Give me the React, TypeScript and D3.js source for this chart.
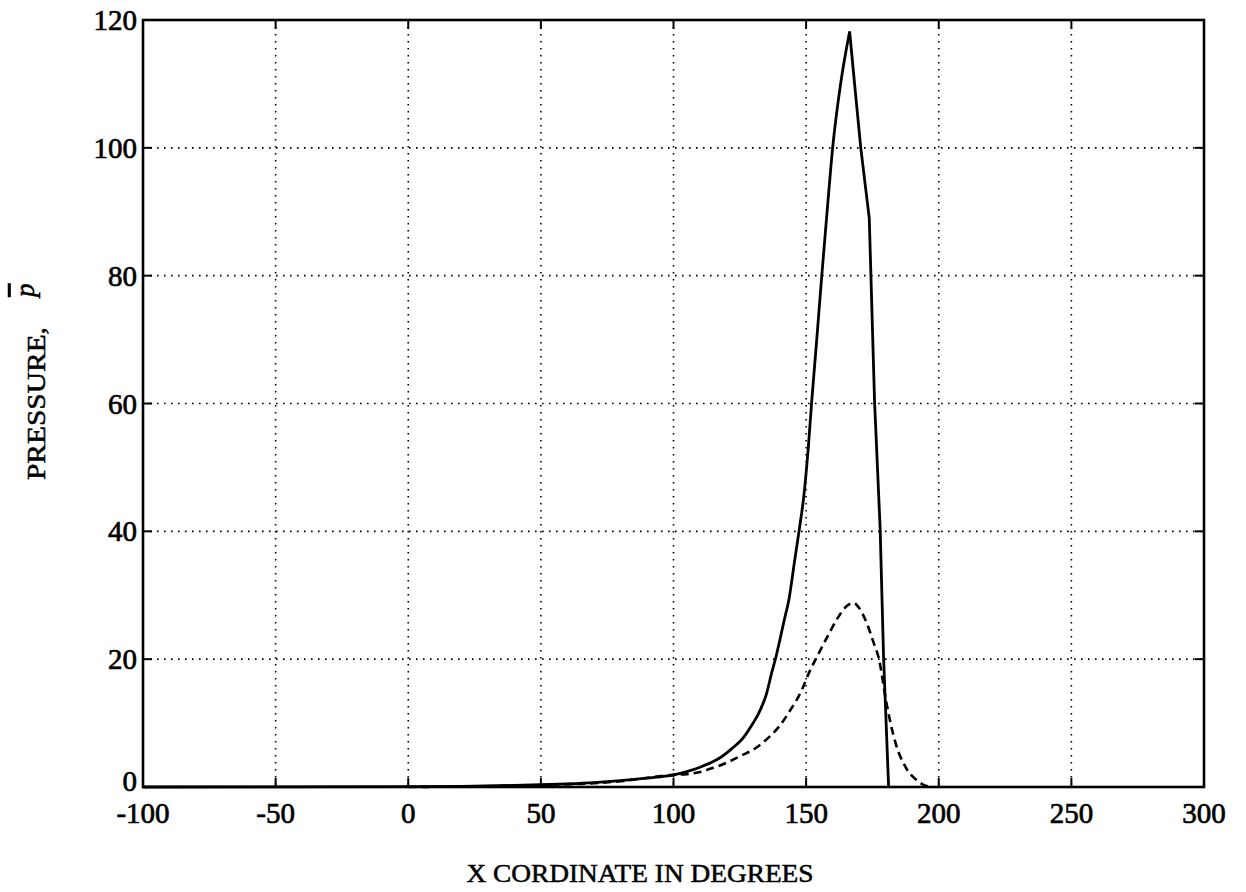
import React from "react";
import * as d3 from "d3";

const xTicks = [-100, -50, 0, 50, 100, 150, 200, 250, 300];
const yTicks = [0, 20, 40, 60, 80, 100, 120];

const solidX = [-100, 0, 20, 40, 50, 60, 70, 80, 90, 100, 105, 110, 115, 118, 122, 126.5, 130, 132.2, 135, 137.1, 138.6, 140.2, 141.8, 143.5, 145.7, 147.5, 149.1, 150.8, 152.1, 154, 155.9, 158, 160, 163, 166.4, 168.5, 170.6, 173.8, 175.8, 177.9, 179.2, 181.1];
const solidY = [0, 0.05, 0.1, 0.25, 0.35, 0.5, 0.7, 1.0, 1.4, 1.9, 2.4, 3.1, 4.0, 4.7, 6.0, 7.8, 10.0, 11.6, 14.5, 18.0, 20.3, 23.2, 26.2, 29.3, 35.5, 40.5, 45.4, 53, 60.3, 70, 80, 90.5, 100, 110, 118.2, 109, 100, 89, 60.3, 40.5, 20.3, 0];

const dashX = [0, 50, 80, 100, 105, 109.6, 115, 119.8, 125, 131, 136, 139.7, 144, 148.4, 151, 154, 158, 162, 165, 167.9, 170, 173, 175.5, 177.3, 180.3, 183.7, 187.5, 191.6, 195, 197];
const dashY = [0, 0.3, 0.9, 1.9, 2.0, 2.3, 3.0, 3.75, 4.8, 6.1, 7.8, 9.4, 12.0, 15.2, 17.8, 20.3, 23.5, 26.5, 28.2, 28.8, 28.0, 25.5, 22.5, 20.3, 13.1, 6.9, 3.1, 1.1, 0.2, 0];

const xLabel = "X CORDINATE IN DEGREES";
const yLabel = "PRESSURE,";
const ySymbol = "p";

const W = 1246, H = 892;
const L = 143, R = 1204, T = 20, B = 787;

export default function App() {
  const x = d3.scaleLinear().domain([-100, 300]).range([L, R]);
  const y = d3.scaleLinear().domain([0, 120]).range([B, T]);
  const line = d3.line<[number, number]>().x(d => x(d[0])).y(d => y(d[1])).curve(d3.curveMonotoneX);
  const lineStraight = d3.line<[number, number]>().x(d => x(d[0])).y(d => y(d[1]));
  const sPts = solidX.map((v, i) => [v, solidY[i]] as [number, number]);
  const solidLeft = line(sPts.filter(p => p[0] <= 166.4)) || "";
  const solidRight = lineStraight(sPts.filter(p => p[0] >= 166.4)) || "";
  const dashed = line(dashX.map((v, i) => [v, dashY[i]] as [number, number])) || "";
  const font = "'Liberation Serif', 'Times New Roman', serif";
  const tick = 9;
  const heavy = { stroke: "#000", strokeWidth: 0.7 };
  return (
    <svg width={W} height={H} style={{ position: "absolute", left: 0, top: 0, background: "#fff" }}>
      <rect x={0} y={0} width={W} height={H} fill="#fff" />
      {/* grid */}
      {xTicks.slice(1, -1).map(t => (
        <line key={"gx" + t} x1={x(t)} x2={x(t)} y1={T} y2={B} stroke="#000" strokeWidth={1.6} strokeDasharray="1.6 5.4" />
      ))}
      {yTicks.slice(1, -1).map(t => (
        <line key={"gy" + t} x1={L} x2={R} y1={y(t)} y2={y(t)} stroke="#000" strokeWidth={1.6} strokeDasharray="1.6 5.4" />
      ))}
      {/* ticks */}
      {xTicks.map(t => (
        <g key={"tx" + t}>
          <line x1={x(t)} x2={x(t)} y1={B} y2={B - tick} stroke="#000" strokeWidth={2} />
          <line x1={x(t)} x2={x(t)} y1={T} y2={T + tick} stroke="#000" strokeWidth={2} />
          <text x={x(t)} y={823} textAnchor="middle" fontFamily={font} fontSize={29} fill="#000" {...heavy}>{t}</text>
        </g>
      ))}
      {yTicks.map(t => (
        <g key={"ty" + t}>
          <line x1={L} x2={L + tick} y1={y(t)} y2={y(t)} stroke="#000" strokeWidth={2} />
          <line x1={R} x2={R - tick} y1={y(t)} y2={y(t)} stroke="#000" strokeWidth={2} />
          <text x={137} y={y(t) - (t === 0 ? 6 : 0)} dy="0.35em" textAnchor="end" fontFamily={font} fontSize={29} fill="#000" {...heavy}>{t}</text>
        </g>
      ))}
      {/* curves */}
      <path d={dashed} fill="none" stroke="#000" strokeWidth={2.6} strokeDasharray="8 5" />
      <path d={solidLeft} fill="none" stroke="#000" strokeWidth={2.8} />
      <path d={solidRight} fill="none" stroke="#000" strokeWidth={2.8} />
      {/* frame */}
      <rect x={L} y={T} width={R - L} height={B - T} fill="none" stroke="#000" strokeWidth={2.6} />
      {/* axis labels */}
      <text x={640} y={882} textAnchor="middle" fontFamily={font} fontSize={25} fill="#000" stroke="#000" strokeWidth={0.5} textLength={347} lengthAdjust="spacingAndGlyphs">{xLabel}</text>
      <text transform="translate(45,480) rotate(-90)" textAnchor="start" fontFamily={font} fontSize={25} fill="#000" stroke="#000" strokeWidth={0.5} textLength={153} lengthAdjust="spacingAndGlyphs">{yLabel}</text>
      <text transform="translate(34,297) rotate(-90)" textAnchor="start" fontFamily={font} fontSize={27} fontStyle="italic" fill="#000" stroke="#000" strokeWidth={0.5} textDecoration="overline">{ySymbol}</text>
    </svg>
  );
}
